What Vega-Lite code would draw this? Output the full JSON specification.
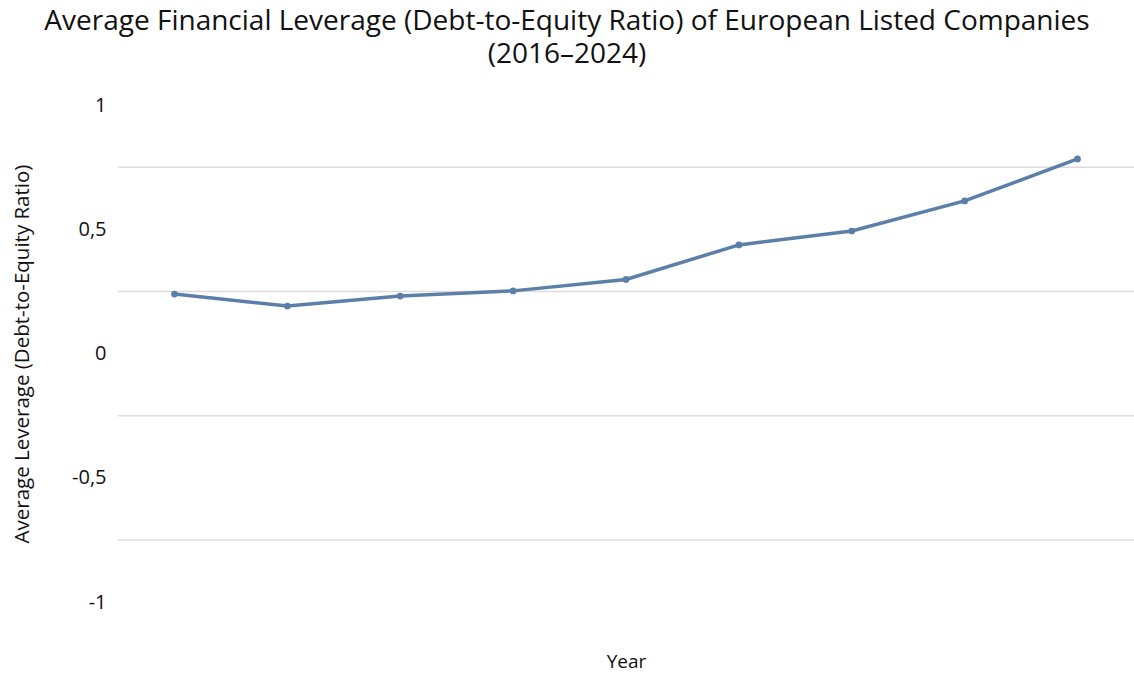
{
  "$schema": "https://vega.github.io/schema/vega-lite/v6.json",
  "autosize": "none",
  "width": 1016,
  "height": 497,
  "padding": {"left": 118, "top": 105, "right": 0, "bottom": 75},
  "background": "white",
  "config": {
    "font": "Open Sans",
    "view": {"stroke": null}
  },
  "title": {
    "text": ["Average Financial Leverage (Debt-to-Equity Ratio) of European Listed Companies", "(2016–2024)"],
    "fontSize": 28,
    "fontWeight": "normal",
    "color": "#111111",
    "anchor": "middle",
    "lineHeight": 33,
    "dx": -59,
    "offset": 26
  },
  "datasets": {
    "series": [
      {"year": "2016", "leverage": 0.239},
      {"year": "2017", "leverage": 0.191},
      {"year": "2018", "leverage": 0.231},
      {"year": "2019", "leverage": 0.252},
      {"year": "2020", "leverage": 0.298},
      {"year": "2021", "leverage": 0.437},
      {"year": "2022", "leverage": 0.493},
      {"year": "2023", "leverage": 0.614},
      {"year": "2024", "leverage": 0.783}
    ],
    "grid": [
      {"g": 0.75},
      {"g": 0.25},
      {"g": -0.25},
      {"g": -0.75}
    ]
  },
  "encoding": {
    "y": {
      "type": "quantitative",
      "scale": {"domain": [-1, 1], "nice": false, "zero": false},
      "axis": {
        "values": [1, 0.5, 0, -0.5, -1],
        "labelExpr": "replace(replace(format(datum.value, '~g'), '.', ','), '−', '-')",
        "grid": false,
        "ticks": false,
        "domain": false,
        "labelFontSize": 20,
        "labelColor": "#111111",
        "labelPadding": 12,
        "title": "Average Leverage (Debt-to-Equity Ratio)",
        "titleFontSize": 20.5,
        "titleFontWeight": "normal",
        "titleColor": "#111111",
        "titlePadding": 39
      }
    }
  },
  "layer": [
    {
      "data": {"name": "grid"},
      "mark": {"type": "rule", "color": "#dcdcdc", "strokeWidth": 1.5},
      "encoding": {
        "y": {"field": "g"}
      }
    },
    {
      "data": {"name": "series"},
      "mark": {"type": "line", "color": "#5b7fa8", "strokeWidth": 3.5, "point": {"filled": true, "size": 45, "color": "#5b7fa8"}},
      "encoding": {
        "x": {
          "field": "year",
          "type": "ordinal",
          "scale": {"type": "point", "padding": 0.5},
          "axis": {"labels": false, "ticks": false, "domain": false, "grid": false, "title": "Year", "titleFontSize": 19, "titleFontWeight": "normal", "titleColor": "#111111", "titlePadding": 50}
        },
        "y": {"field": "leverage"}
      }
    }
  ]
}
